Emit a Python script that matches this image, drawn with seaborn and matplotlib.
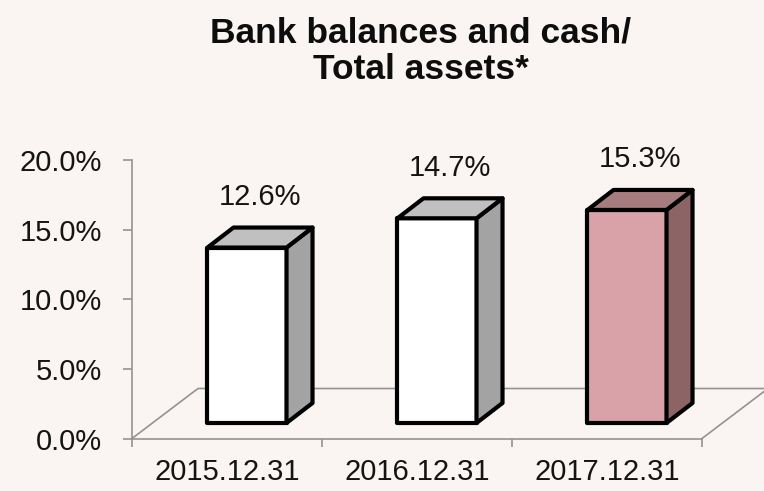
import matplotlib
matplotlib.use("Agg")
import matplotlib.pyplot as plt
import numpy as np
import pandas as pd
import seaborn as sns
from matplotlib.patches import Polygon
from matplotlib.transforms import ScaledTranslation

# Data
dates = ["2015.12.31", "2016.12.31", "2017.12.31"]
ratios = [12.6, 14.7, 15.3]
y_ticks = [0, 5, 10, 15, 20]

# Face colours of each column (front / top / right side)
front_colors = ["#FFFFFF", "#FFFFFF", "#D9A2A8"]
top_colors = ["#C0C0C0", "#C0C0C0", "#A67C7E"]
side_colors = ["#A3A3A3", "#A3A3A3", "#8C6466"]

BG = "#FAF5F2"
AXIS_GREY = "#939393"
TEXT = "#141414"

sns.set_theme(style="white")
plt.rcParams["font.family"] = ["Liberation Sans", "DejaVu Sans"]

W, H, DPI = 764, 491, 100
fig = plt.figure(figsize=(W / DPI, H / DPI), dpi=DPI, facecolor=BG)
ax = fig.add_axes([132 / W, 1 - 438.5 / H, 570 / W, (438.5 - 160) / H])
ax.set_facecolor("none")

df = pd.DataFrame({"date": dates, "ratio": ratios})
sns.barplot(data=df, x="date", y="ratio", hue="date", palette=front_colors,
            saturation=1, width=0.416, legend=False, ax=ax,
            edgecolor="black", linewidth=3.0, zorder=3)

ax.set_xlim(-0.5, len(dates) - 0.5)
ax.set_ylim(0, 20)

# pixel -> data conversion for the oblique (pseudo-3D) projection
p0 = ax.transData.transform((0, 0))
px_x = ax.transData.transform((1, 0))[0] - p0[0]
px_y = ax.transData.transform((0, 1))[1] - p0[1]

def depth(dx_px, dy_px):
    return dx_px / px_x, dy_px / px_y

# floor of the chart
fdx, fdy = depth(66, 50)
xl, xr = ax.get_xlim()
ax.plot([xl, xl + fdx, xr + fdx, xr], [0, fdy, fdy, 0],
        color=AXIS_GREY, lw=1.2, clip_on=False, zorder=1)

# columns stand part-way back on the floor
shift = ax.transData + ScaledTranslation(20 / DPI, 15.5 / DPI, fig.dpi_scale_trans)
ddx, ddy = depth(26, 20)
for patch, top_c, side_c in zip(ax.patches, top_colors, side_colors):
    x0, w, h = patch.get_x(), patch.get_width(), patch.get_height()
    patch.set_transform(shift)
    patch.set_clip_on(False)
    patch.set_joinstyle("round")
    side = Polygon([(x0 + w, 0), (x0 + w + ddx, ddy), (x0 + w + ddx, h + ddy), (x0 + w, h)],
                   closed=True, facecolor=side_c, edgecolor="black", lw=3.0,
                   joinstyle="round", transform=shift, clip_on=False, zorder=3)
    top = Polygon([(x0, h), (x0 + ddx, h + ddy), (x0 + w + ddx, h + ddy), (x0 + w, h)],
                  closed=True, facecolor=top_c, edgecolor="black", lw=3.0,
                  joinstyle="round", transform=shift, clip_on=False, zorder=3)
    ax.add_patch(side)
    ax.add_patch(top)

# value labels above the columns
for i, v in enumerate(ratios):
    ax.annotate(f"{v:.1f}%", xy=(i, v), xycoords="data", xytext=(33, 66),
                textcoords="offset pixels", ha="center", va="center",
                fontsize=21, color=TEXT, zorder=5, annotation_clip=False)

# axes styling
sns.despine(ax=ax, top=True, right=True)
for s in ("left", "bottom"):
    ax.spines[s].set_color(AXIS_GREY)
    ax.spines[s].set_linewidth(1.2)

ax.set_yticks(y_ticks)
ax.set_yticklabels([f"{t:.1f}%" for t in y_ticks])
ax.tick_params(axis="y", direction="out", length=6.5, width=1.2, color=AXIS_GREY,
               labelsize=21, labelcolor=TEXT, pad=15, left=True)

ax.set_xticks(range(len(dates)))
ax.set_xticklabels(dates)
ax.set_xticks(np.arange(-0.5, len(dates)), minor=True)
ax.tick_params(axis="x", which="major", length=0, labelsize=21, labelcolor=TEXT, pad=14)
ax.tick_params(axis="x", which="minor", direction="out", length=6, width=1.2,
               color=AXIS_GREY, bottom=True)
ax.set_xlabel("")
ax.set_ylabel("")

fig.text(421 / W, 1 - 51 / H, "Bank balances and cash/\nTotal assets*",
         ha="center", va="center", fontsize=25.5, fontweight="bold",
         color="#0D0D0D", linespacing=1.12)

fig.savefig("out.png", dpi=DPI, facecolor=BG)
